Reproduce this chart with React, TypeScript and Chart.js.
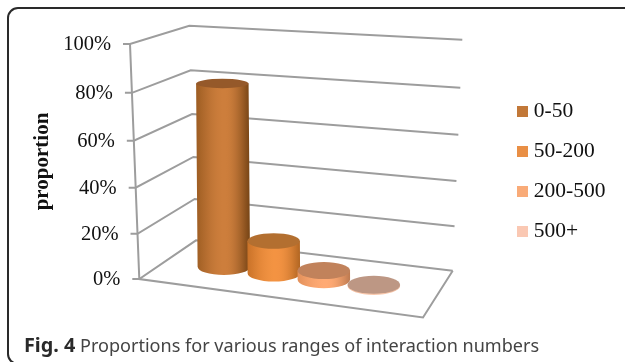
import React, { useEffect, useRef } from "react";
import { Chart, registerables } from "chart.js";

Chart.register(...registerables);

// Chart values
const categories = ["Interaction numbers"];
const seriesNames = ["0-50", "50-200", "200-500", "500+"];
const share050 = [81];
const share50200 = [14.5];
const share200500 = [4];
const share500plus = [0.5];
const tickStep = 20;

// Flat colours used by the legend
const legendColors = ["#c27838", "#e98f45", "#f9ab78", "#fac8b3"];
// Cylinder shading: [left edge, highlight, right edge, cap]
const shades = [
  ["#9c5c22", "#cd7e3c", "#7c4818", "#95592a"],
  ["#c97228", "#f39342", "#b26622", "#b36f30"],
  ["#e2905a", "#ffaa74", "#bd7a50", "#c1825b"],
  ["#f2bda0", "#f9c8ac", "#e8b498", "#bd9784"],
];

// Corners of the 3D plot box: [x, y] at 0% and at 100%
const box = {
  frontLeft: [[139.3, 279], [130, 44]],
  backLeft: [[196, 240.3], [189.3, 25.7]],
  backRight: [[452.7, 270.7], [462.3, 39.7]],
  frontRight: [[423, 317.5], [414, 64]],
};
const VERTICAL_FORESHORTEN = 1.049;
const ROW_DEPTH = 0.5;
const CAP_DEPTH = 0.2;
const ROW_SHIFT = -0.0145;
// Cylinders converge less than the wall edges do
const CYLINDER_LEAN = 0.3;
const HIGHLIGHT_AT = 0.55;

const lerp = (a: number, b: number, t: number) => a + (b - a) * t;
const mix = (p: number[], q: number[], t: number) => [lerp(p[0], q[0], t), lerp(p[1], q[1], t)];

const rgbOf = (hex: string) => [1, 3, 5].map((i) => parseInt(hex.slice(i, i + 2), 16));
const blend = (a: string, b: string, t: number) => {
  const p = rgbOf(a);
  const q = rgbOf(b);
  return `rgb(${p.map((c, i) => Math.round(lerp(c, q[i], t))).join(",")})`;
};

// Maps across-the-floor, into-the-wall and height fractions to canvas pixels
function project(u: number, d: number, h: number) {
  const t = h / (VERTICAL_FORESHORTEN + (1 - VERTICAL_FORESHORTEN) * h);
  const fl = mix(box.frontLeft[0], box.frontLeft[1], t);
  const bl = mix(box.backLeft[0], box.backLeft[1], t);
  const br = mix(box.backRight[0], box.backRight[1], t);
  const fr = mix(box.frontRight[0], box.frontRight[1], t);
  return mix(mix(fl, bl, d), mix(fr, br, d), u);
}

const heightOf = (chart: any, pixel: number) => {
  const { top, bottom } = chart.chartArea;
  return (bottom - pixel) / (bottom - top);
};

function drawWalls(chart: any) {
  const { ctx, scales } = chart;
  const y = scales.y;
  ctx.save();
  ctx.strokeStyle = "#9d9d9d";
  ctx.lineWidth = 2;
  ctx.lineJoin = "miter";
  const stroke = (pts: number[][]) => {
    ctx.beginPath();
    pts.forEach((p, i) => (i ? ctx.lineTo(p[0], p[1]) : ctx.moveTo(p[0], p[1])));
    ctx.stroke();
  };
  y.ticks.forEach((tick: any) => {
    const h = heightOf(chart, y.getPixelForValue(tick.value));
    const a = project(0, 0, h);
    stroke([[a[0] - 7, a[1]], a, project(0, 1, h), project(1, 1, h)]);
  });
  stroke([project(0, 0, 1), project(0, 0, 0), project(1, 0, 0), project(1, 1, 0)]);

  // Axis labels follow the slanted front edge
  ctx.fillStyle = "#111";
  ctx.font = "20.5px 'Liberation Serif'";
  ctx.textAlign = "right";
  ctx.textBaseline = "middle";
  y.ticks.forEach((tick: any) => {
    const h = heightOf(chart, y.getPixelForValue(tick.value));
    const a = project(0, 0, h);
    ctx.fillText(tick.label, a[0] - 19, a[1] + 0.5);
  });
  ctx.restore();
}

function drawCylinder(chart: any, el: any, shade: string[]) {
  const { ctx, chartArea } = chart;
  const u = (el.x - chartArea.left) / chartArea.width + ROW_SHIFT;
  const h = heightOf(chart, el.y);
  const rowWidth = project(1, ROW_DEPTH, 0)[0] - project(0, ROW_DEPTH, 0)[0];
  const rx = (el.width / 2) * (rowWidth / chartArea.width);
  const base = project(u, ROW_DEPTH, 0);
  const rawTop = project(u, ROW_DEPTH, h);
  const top = [lerp(base[0], rawTop[0], CYLINDER_LEAN), rawTop[1]];
  const radiusY = (height: number) =>
    Math.abs(project(u, ROW_DEPTH + CAP_DEPTH, height)[1] - project(u, ROW_DEPTH - CAP_DEPTH, height)[1]) / 2;
  const ryBase = radiusY(0);
  const ryTop = radiusY(h);

  // Rounded shading: quick rise from the left edge, slow fall towards the right
  const grad = ctx.createLinearGradient(top[0] - rx, 0, top[0] + rx, 0);
  for (let s = 0; s <= 20; s++) {
    const p = s / 20;
    const colour =
      p < HIGHLIGHT_AT
        ? blend(shade[0], shade[1], Math.sin(((p / HIGHLIGHT_AT) * Math.PI) / 2))
        : blend(shade[1], shade[2], 1 - Math.cos((((p - HIGHLIGHT_AT) / (1 - HIGHLIGHT_AT)) * Math.PI) / 2));
    grad.addColorStop(p, colour);
  }

  ctx.save();
  ctx.fillStyle = grad;
  ctx.beginPath();
  ctx.moveTo(top[0] - rx, top[1]);
  ctx.lineTo(base[0] - rx, base[1]);
  ctx.ellipse(base[0], base[1], rx, ryBase, 0, Math.PI, 0, true);
  ctx.lineTo(top[0] + rx, top[1]);
  ctx.closePath();
  ctx.fill();
  ctx.fillStyle = shade[3];
  ctx.beginPath();
  ctx.ellipse(top[0], top[1], rx, ryTop, 0, 0, Math.PI * 2);
  ctx.fill();
  ctx.restore();
}

const cylinderPlugin = {
  id: "cylinders",
  afterLayout(chart: any) {
    // Legend column sits right of the plot box
    const legend = chart.legend;
    const w = legend.right - legend.left;
    const ht = legend.bottom - legend.top;
    legend.left = 503.5;
    legend.right = legend.left + w;
    legend.top = 82.2;
    legend.bottom = legend.top + ht;
  },
  beforeDatasetsDraw(chart: any) {
    drawWalls(chart);
  },
  beforeDatasetDraw() {
    return false;
  },
  afterDatasetsDraw(chart: any) {
    chart.data.datasets.forEach((_: any, i: number) => {
      const el = chart.getDatasetMeta(i).data[0];
      drawCylinder(chart, el, shades[i]);
    });
  },
};

export default function App() {
  const ref = useRef<HTMLCanvasElement>(null);

  useEffect(() => {
    const values = [share050, share50200, share200500, share500plus];
    const chart = new Chart(ref.current as HTMLCanvasElement, {
      type: "bar",
      data: {
        labels: categories,
        datasets: seriesNames.map((label, i) => ({
          label,
          data: values[i],
          backgroundColor: legendColors[i],
          borderWidth: 0,
          categoryPercentage: 0.74,
          barPercentage: 1.05,
        })),
      },
      options: {
        animation: false,
        responsive: false,
        layout: { padding: { left: 32, top: 44, bottom: 83, right: 0 } },
        scales: {
          x: { display: false },
          y: {
            min: 0,
            max: 100,
            border: { display: false },
            grid: { display: false },
            ticks: { display: false, stepSize: tickStep, callback: (v: any) => `${v}%` },
            title: {
              display: true,
              text: "proportion",
              color: "#111",
              font: { family: "'Liberation Serif'", size: 21, weight: "bold", lineHeight: 1 },
              padding: 0,
            },
          },
        },
        plugins: {
          title: { display: false },
          tooltip: { enabled: false },
          legend: {
            position: "right",
            align: "start",
            labels: {
              color: "#111",
              font: { family: "'Liberation Serif'", size: 21.5, lineHeight: 1 },
              usePointStyle: true,
              pointStyle: "rect",
              boxWidth: 1,
              boxHeight: 11,
              padding: 18.5,
            },
          },
        },
      },
      plugins: [cylinderPlugin],
    } as any);
    return () => chart.destroy();
  }, []);

  return (
    <div style={{ position: "fixed", left: 0, top: 0, width: 625, height: 362, background: "#fff", overflow: "hidden" }}>
      <canvas ref={ref} width={625} height={362} style={{ position: "absolute", left: 0, top: 0 }} />
      <div
        style={{
          position: "absolute",
          left: 6.5,
          top: 7,
          width: 640,
          height: 358,
          border: "2px solid #2a2a2a",
          borderRadius: 11,
          boxSizing: "border-box",
          pointerEvents: "none",
        }}
      />
      <div
        style={{
          position: "absolute",
          left: 24,
          top: 332,
          whiteSpace: "nowrap",
          fontFamily: "'Noto Sans'",
          fontSize: 18.07,
          lineHeight: "26px",
          color: "#444",
        }}
      >
        <b style={{ color: "#2a2a2a", fontSize: 19.8 }}>Fig. 4</b> Proportions for various ranges of interaction numbers
      </div>
    </div>
  );
}
